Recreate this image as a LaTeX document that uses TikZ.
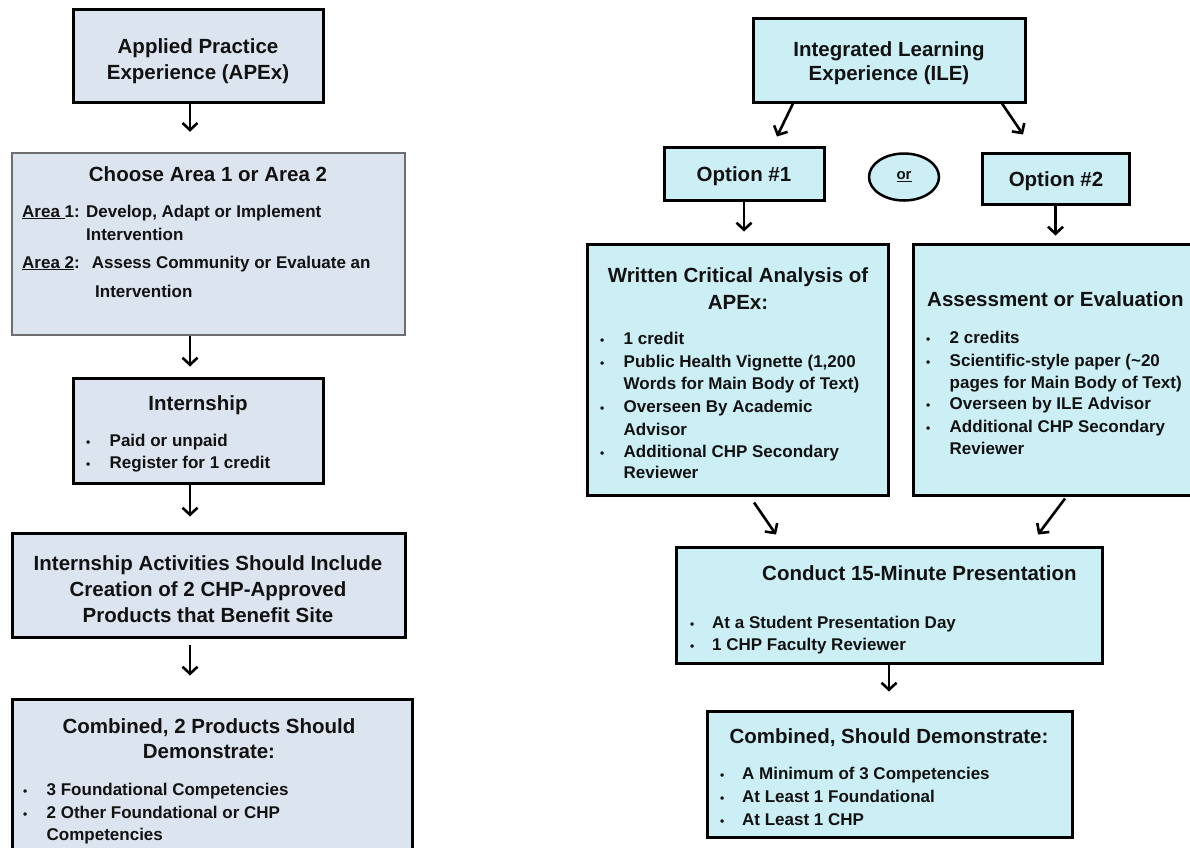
\documentclass[tikz,border=0pt]{standalone}
\usepackage{fontspec}
\setmainfont{Liberation Sans}
\usetikzlibrary{arrows.meta,shapes.geometric}

\definecolor{apexfill}{HTML}{DCE4F0}
\definecolor{ilefill}{HTML}{CCEFF5}
\definecolor{chooseline}{HTML}{6E6E6E}
\definecolor{txt}{HTML}{121212}

\newcommand{\ttlsize}{\fontsize{20.5}{24}\selectfont\bfseries}
\newcommand{\itmsize}{\fontsize{17}{21}\selectfont\bfseries}
\newcommand{\bul}[1][23.5pt]{\makebox[#1][l]{\fontsize{12}{12}\selectfont •}}

\begin{document}
\begin{tikzpicture}[x=1pt,y=-1pt,
  lbox/.style={draw=black, line width=3pt, fill=apexfill, inner sep=0pt},
  rbox/.style={draw=black, line width=3pt, fill=ilefill, inner sep=0pt},
  ttl/.style={font=\ttlsize, text=txt, inner sep=0pt, anchor=base},
  ttlw/.style={font=\ttlsize, text=txt, inner sep=0pt, anchor=base west},
  itm/.style={font=\itmsize, text=txt, inner sep=0pt, anchor=base west},
  arr/.style={line width=2.6pt, -{Straight Barb[length=7pt,width=15pt]}}]

\useasboundingbox (0,0) rectangle (1190,847);
\clip (0,0) rectangle (1190,847);

% APEx column
\node[lbox, minimum width=250pt, minimum height=93pt] (apex) at (198,55.5) {};
\node[lbox, draw=chooseline, line width=2.5pt, minimum width=393pt, minimum height=182pt] (choose) at (208.5,244) {};
\node[lbox, minimum width=250pt, minimum height=105pt] (intern) at (198,430.5) {};
\node[lbox, minimum width=393pt, minimum height=104pt] (activ) at (208.5,585) {};
\node[lbox, minimum width=400pt, minimum height=171pt] (combL) at (212,784.5) {};

\node[ttl] (apexT1) at (198,53) {Applied Practice};
\node[ttl] (apexT2) at (198,79) {Experience (APEx)};

\node[ttl] (chooseT) at (208,181) {Choose Area 1 or Area 2};
\node[itm] (area1) at (22,217) {\underline{Area }1: Develop, Adapt or Implement};
\node[itm] (area1b) at (86,240) {Intervention};
\node[itm] (area2) at (22,268) {\underline{Area 2}:\hspace{12pt}Assess Community or Evaluate an};
\node[itm] (area2b) at (95,297) {Intervention};

\node[ttl] (internT) at (198,410) {Internship};
\node[itm] (intern1) at (86,446) {\bul Paid or unpaid};
\node[itm] (intern2) at (86,468) {\bul Register for 1 credit};

\node[ttl] (activT1) at (208,570) {Internship Activities Should Include};
\node[ttl] (activT2) at (208,596) {Creation of 2 CHP-Approved};
\node[ttl] (activT3) at (208,622) {Products that Benefit Site};

\node[ttl] (combLT1) at (209,733) {Combined, 2 Products Should};
\node[ttl] (combLT2) at (209,758) {Demonstrate:};
\node[itm] (combL1) at (23,795) {\bul 3 Foundational Competencies};
\node[itm] (combL2) at (23,818) {\bul 2 Other Foundational or CHP};
\node[itm] (combL2b) at (46.5,840) {Competencies};

\coordinate (colL) at (190,0);
\draw[arr, shorten >=20pt] (apex.south -| colL) -- (choose.north -| colL);
\draw[arr, shorten >=10pt] (choose.south -| colL) -- (intern.north -| colL);
\draw[arr, shorten >=15pt] (intern.south -| colL) -- (activ.north -| colL);
\draw[arr, shorten <=6pt, shorten >=22pt] (activ.south -| colL) -- (combL.north -| colL);

% ILE column
\node[rbox, minimum width=272pt, minimum height=84pt] (ile) at (889,60) {};
\node[rbox, minimum width=160pt, minimum height=53pt] (opt1) at (744,173.5) {};
\node[rbox, minimum width=147pt, minimum height=51pt] (opt2) at (1055.5,178.5) {};
\node[draw=black, line width=2.5pt, fill=ilefill, ellipse, inner sep=0pt,
  minimum width=70pt, minimum height=47pt, text=txt,
  font=\fontsize{15}{15}\selectfont\bfseries] (orsel) at (904,177) {\underline{or}};
\node[rbox, minimum width=301pt, minimum height=251pt] (written) at (737.5,369.5) {};
\node[rbox, minimum width=297pt, minimum height=251pt] (assess) at (1061.5,369.5) {};
\node[rbox, minimum width=426pt, minimum height=116pt] (conduct) at (889,605) {};
\node[rbox, minimum width=365pt, minimum height=126pt] (combR) at (889.5,774) {};

\node[ttl] (ileT1) at (889,56) {Integrated Learning};
\node[ttl] (ileT2) at (889,80) {Experience (ILE)};
\node[ttl] (opt1T) at (744,181) {Option \#1};
\node[ttl] (opt2T) at (1056,186) {Option \#2};

\node[ttl] (writtenT1) at (738,282) {Written Critical Analysis of};
\node[ttl] (writtenT2) at (738,309) {APEx:};
\node[itm] (written1) at (600,344) {\bul 1 credit};
\node[itm] (written2) at (600,367) {\bul Public Health Vignette (1,200};
\node[itm] (written2b) at (623.5,389) {Words for Main Body of Text)};
\node[itm] (written3) at (600,412) {\bul Overseen By Academic};
\node[itm] (written3b) at (623.5,435) {Advisor};
\node[itm] (written4) at (600,457) {\bul Additional CHP Secondary};
\node[itm] (written4b) at (623.5,478) {Reviewer};

\node[ttlw] (assessT) at (927,306) {Assessment or Evaluation};
\node[itm] (assess1) at (926,343) {\bul 2 credits};
\node[itm] (assess2) at (926,366) {\bul Scientific-style paper (\textasciitilde20};
\node[itm] (assess2b) at (949.5,388) {pages for Main Body of Text)};
\node[itm] (assess3) at (926,409) {\bul Overseen by ILE Advisor};
\node[itm] (assess4) at (926,432) {\bul Additional CHP Secondary};
\node[itm] (assess4b) at (949.5,454) {Reviewer};

\node[ttlw] (conductT) at (762,580) {Conduct 15-Minute Presentation};
\node[itm] (conduct1) at (690,628) {\bul[22pt]At a Student Presentation Day};
\node[itm] (conduct2) at (690,650) {\bul[22pt]1 CHP Faculty Reviewer};

\node[ttl] (combRT) at (889,743) {Combined, Should Demonstrate:};
\node[itm] (combR1) at (720,779) {\bul[22pt]A Minimum of 3 Competencies};
\node[itm] (combR2) at (720,802) {\bul[22pt]At Least 1 Foundational};
\node[itm] (combR3) at (720,825) {\bul[22pt]At Least 1 CHP};

\draw[arr] ([xshift=-96pt]ile.south) -- ([xshift=-112pt,yshift=-33pt]ile.south);
\draw[arr] ([xshift=113pt]ile.south) -- ([xshift=134pt,yshift=-31pt]ile.south);
\draw[arr, shorten >=11pt] (opt1.south) -- (opt1.south |- written.north);
\draw[arr, shorten >=7pt] (opt2.south) -- (opt2.south |- assess.north);
\draw[arr] ([xshift=16.5pt,yshift=-6pt]written.south) -- ([xshift=38.5pt,yshift=-38pt]written.south);
\draw[arr] ([xshift=3.5pt,yshift=-2pt]assess.south) -- ([xshift=-23.5pt,yshift=-38pt]assess.south);
\draw[arr, shorten >=18pt] (conduct.south) -- (conduct.south |- combR.north);
\end{tikzpicture}
\end{document}
